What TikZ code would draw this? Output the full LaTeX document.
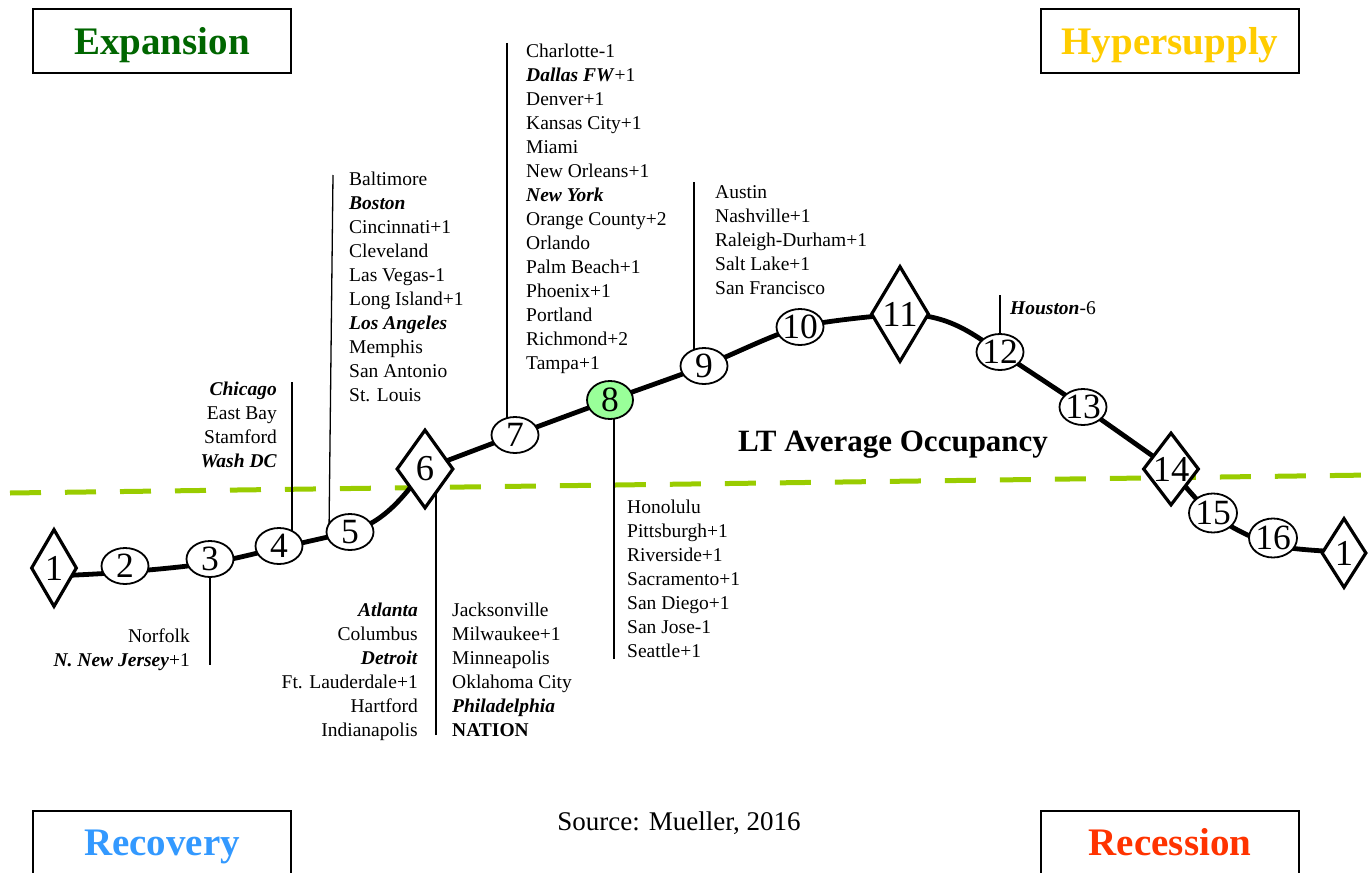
\documentclass[tikz,border=0pt]{standalone}
\usepackage{fontspec}
\setmainfont{Liberation Serif}
\usetikzlibrary{shapes.geometric,backgrounds,calc}
\definecolor{expgreen}{HTML}{006600}
\definecolor{hypgold}{HTML}{FFCC00}
\definecolor{recblue}{HTML}{3399FF}
\definecolor{recred}{HTML}{FF3300}
\definecolor{dashgreen}{HTML}{99CC00}
\definecolor{nodegreen}{HTML}{99FF99}
\newcommand{\bic}[1]{\textbf{\textit{#1}}}
\begin{document}
\begin{tikzpicture}[x=1pt,y=-1pt,
  ell/.style={ellipse,draw,line width=1.8pt,fill=white,minimum width=47pt,minimum height=36pt,inner sep=0pt,font=\fontsize{35.5}{40}\selectfont},
  dia/.style={diamond,draw,line width=3.2pt,fill=white,inner sep=0pt,font=\fontsize{36.5}{42}\selectfont},
  curve/.style={line width=4.8pt,line join=round},
  leader/.style={line width=1.3pt},
  dashline/.style={line width=5pt,draw=dashgreen,dash pattern=on 31pt off 24pt},
  listl/.style={anchor=base west,inner sep=0pt,font=\fontsize{19.5}{24}\selectfont},
  listr/.style={anchor=base east,inner sep=0pt,font=\fontsize{19.5}{24}\selectfont},
  tbox/.style={draw,line width=1.8pt,minimum width=258pt,minimum height=64pt,inner sep=0pt},
  ttext/.style={anchor=base,inner sep=0pt,font=\fontsize{39}{44}\selectfont\bfseries}]
\useasboundingbox (0,0) rectangle (1372,872);
\clip (0,0) rectangle (1372,872);

% stage nodes
\node[dia,minimum width=46pt,minimum height=78pt] (n1) at (54,568) {\makebox[0pt]{1}};
\node[ell] (n2) at (125,566) {\makebox[0pt]{2}};
\node[ell] (n3) at (210,559) {\makebox[0pt]{3}};
\node[ell] (n4) at (279,546) {\makebox[0pt]{4}};
\node[ell] (n5) at (350,532) {\makebox[0pt]{5}};
\node[dia,minimum width=57pt,minimum height=79pt] (n6) at (425,469) {\makebox[0pt]{6}};
\node[ell] (n7) at (515,435) {\makebox[0pt]{7}};
\node[ell,fill=nodegreen,minimum width=46pt,minimum height=38pt] (n8) at (610,400) {\makebox[0pt]{8}};
\node[ell] (n9) at (704,366) {\makebox[0pt]{9}};
\node[ell] (n10) at (800,327) {\makebox[0pt]{10}};
\node[dia,minimum width=58pt,minimum height=96pt] (n11) at (900,314) {\makebox[0pt]{11}};
\node[ell] (n12) at (1000,352) {\makebox[0pt]{12}};
\node[ell] (n13) at (1083,407) {\makebox[0pt]{13}};
\node[dia,minimum width=56pt,minimum height=73pt] (n14) at (1171,469) {\makebox[0pt]{14}};
\node[ell,minimum width=48pt,minimum height=39pt] (n15) at (1213,513) {\makebox[0pt]{15}};
\node[ell,minimum width=48pt,minimum height=39pt] (n16) at (1273,538) {\makebox[0pt]{16}};
\node[dia,minimum width=45pt,minimum height=70pt] (n1b) at (1344,553) {\makebox[0pt]{1}};

% curve points
\coordinate (p1) at ($(n1)+(0,8)$);
\coordinate (p2) at ($(n2)+(0,6)$);
\coordinate (p3) at ($(n3)+(0,4)$);
\coordinate (p4) at ($(n4)+(0,2)$);
\coordinate (p15) at ($(n15)+(0,2)$);
\coordinate (p16) at ($(n16)+(0,7)$);
\coordinate (p1b) at ($(n1b)+(0,-1)$);
\coordinate (c5a) at (385,522);
\coordinate (c6a) at (403,497);
\coordinate (c11a) at (950,314);
\coordinate (c12a) at (972,334);

% leader line ends
\coordinate (t3) at (210,665);
\coordinate (t4) at (292,382);
\coordinate (t5) at (333,175);
\coordinate (t6) at (436,735);
\coordinate (t7) at (507,43);
\coordinate (t8) at (614,659);
\coordinate (t9) at (694,182);
\coordinate (t12) at (1000,295);
\coordinate (dl) at (10,493);
\coordinate (dr) at (1372,475);

\begin{scope}[on background layer]
  \draw[dashline] (dl) -- (dr);
  \draw[leader] (n3) -- (t3);
  \draw[leader] (t4) -- (t4 |- n4);
  \draw[leader] (t5) -- ($(n5)+(-21,0)$);
  \draw[leader] (t6) -- (t6 |- n6);
  \draw[leader] (t7) -- (t7 |- n7);
  \draw[leader] (t8) -- (t8 |- n8);
  \draw[leader] (t9) -- (t9 |- n9);
  \draw[leader] (t12) -- (n12);
  \draw[curve] plot[smooth,tension=0.6] coordinates {(p1) (p2) (p3) (p4) (n5.center)};
  \draw[curve] (n5.center) .. controls (c5a) and (c6a) .. (n6.center);
  \draw[curve] plot[smooth,tension=0.5] coordinates {(n6.center) (n7.center) (n8.center) (n9.center) (n10.center) (n11.center)};
  \draw[curve] (n11.center) .. controls (c11a) and (c12a) .. (n12.center);
  \draw[curve] plot[smooth,tension=0.5] coordinates {(n12.center) (n13.center) (n14.center)};
  \draw[curve] plot[smooth,tension=0.5] coordinates {(n14.center) (p15) (p16) (p1b)};
\end{scope}

% city lists
\node[listr] (l3) at (190,642) {\begin{tabular}[t]{@{}r@{}}Norfolk\\ \bic{N. New Jersey}+1\end{tabular}};
\node[listr] (l4) at (277,395) {\begin{tabular}[t]{@{}r@{}}\bic{Chicago}\\ East Bay\\ Stamford\\ \bic{Wash DC}\end{tabular}};
\node[listl] (l5) at (349,185) {\begin{tabular}[t]{@{}l@{}}Baltimore\\ \bic{Boston}\\ Cincinnati+1\\ Cleveland\\ Las Vegas-1\\ Long Island+1\\ \bic{Los Angeles}\\ Memphis\\ San Antonio\\ St. Louis\end{tabular}};
\node[listr] (l6a) at (418,616) {\begin{tabular}[t]{@{}r@{}}\bic{Atlanta}\\ Columbus\\ \bic{Detroit}\\ Ft. Lauderdale+1\\ Hartford\\ Indianapolis\end{tabular}};
\node[listl] (l6b) at (452,616) {\begin{tabular}[t]{@{}l@{}}Jacksonville\\ Milwaukee+1\\ Minneapolis\\ Oklahoma City\\ \bic{Philadelphia}\\ \textbf{NATION}\end{tabular}};
\node[listl] (l7) at (526,58) {\begin{tabular}[t]{@{}l@{}}Charlotte-1\\ \bic{Dallas FW}+1\\ Denver+1\\ Kansas City+1\\ Miami\\ New Orleans+1\\ \bic{New York}\\ Orange County+2\\ Orlando\\ Palm Beach+1\\ Phoenix+1\\ Portland\\ Richmond+2\\ Tampa+1\end{tabular}};
\node[listl] (l8) at (627,513) {\begin{tabular}[t]{@{}l@{}}Honolulu\\ Pittsburgh+1\\ Riverside+1\\ Sacramento+1\\ San Diego+1\\ San Jose-1\\ Seattle+1\end{tabular}};
\node[listl] (l9) at (715,198) {\begin{tabular}[t]{@{}l@{}}Austin\\ Nashville+1\\ Raleigh-Durham+1\\ Salt Lake+1\\ San Francisco\end{tabular}};
\node[listl] (l12) at (1010,314) {\bic{Houston}-6};

% labels
\node[anchor=base,inner sep=0pt,font=\fontsize{31}{36}\selectfont\bfseries] (lt) at (893,451) {LT Average Occupancy};
\node[anchor=base,inner sep=0pt,font=\fontsize{27}{32}\selectfont] (src) at (679,830) {Source: Mueller, 2016};

% phase boxes
\node[tbox] (bexp) at (162,41) {};
\node[ttext,text=expgreen] (texp) at (162,55) {Expansion};
\node[tbox] (bhyp) at (1170,41) {};
\node[ttext,text=hypgold] (thyp) at (1170,55) {Hypersupply};
\node[tbox] (brec) at (162,843) {};
\node[ttext,text=recblue] (trec) at (162,855) {Recovery};
\node[tbox] (bres) at (1170,843) {};
\node[ttext,text=recred] (tres) at (1170,855) {Recession};
\end{tikzpicture}
\end{document}
